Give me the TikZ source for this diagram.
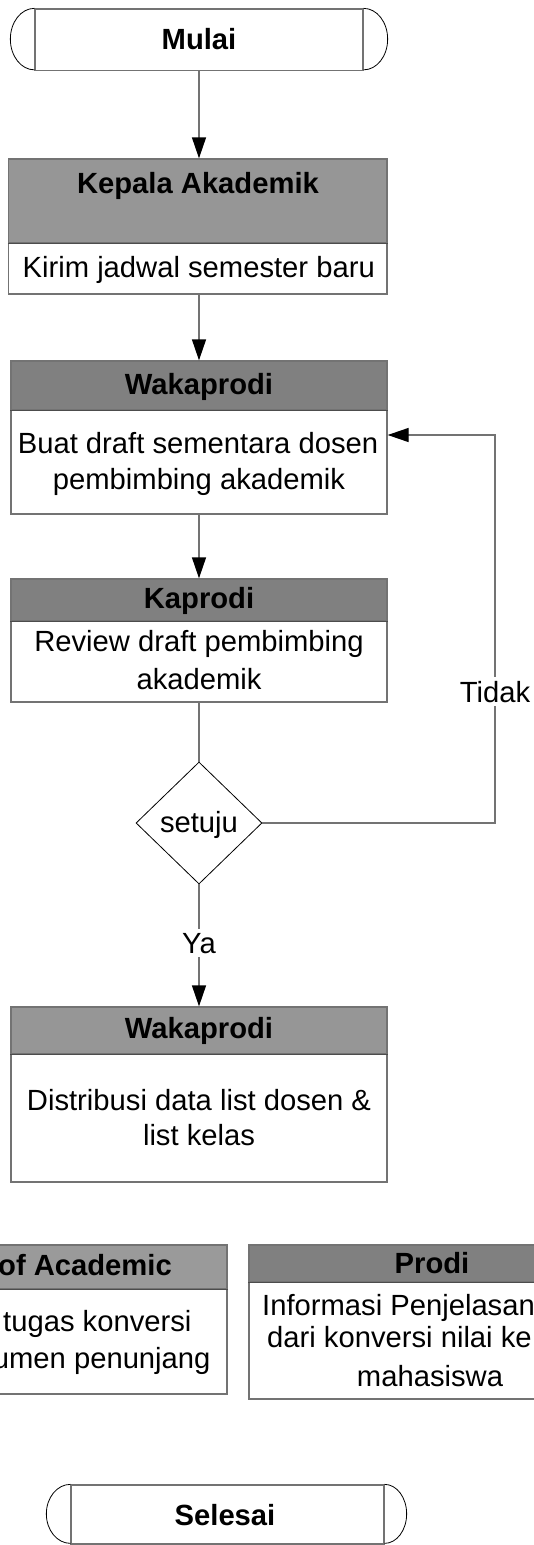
\documentclass[tikz,border=0pt]{standalone}
\usepackage{fontspec}
\setmainfont{Liberation Sans}
\usetikzlibrary{arrows.meta,shapes.geometric}
\definecolor{lineg}{HTML}{737373}
\definecolor{hdrlight}{HTML}{969696}
\definecolor{hdrdark}{HTML}{808080}
\definecolor{hdrpale}{HTML}{9A9A9A}
\begin{document}
\begin{tikzpicture}[x=1pt,y=-1pt,
  box/.style={draw=lineg, line width=1.3pt, fill=white, rectangle, inner sep=0pt},
  txt/.style={anchor=base, inner sep=0pt, font=\fontsize{29.2}{35}\selectfont},
  btxt/.style={txt, font=\fontsize{29.2}{35}\selectfont\bfseries},
  lbl/.style={txt, fill=white, inner xsep=0pt, inner ysep=4pt},
  conn/.style={draw=lineg, line width=1.3pt},
  arr/.style={conn, -{Triangle[length=21pt,width=14pt,color=black]}},
  arcline/.style={draw=black, line width=0.8pt},
  divider/.style={draw=black!70, line width=1.3pt},
]
\useasboundingbox (0,0) rectangle (534,1545);

% Mulai terminator
\node[box, minimum width=328pt, minimum height=61.5pt] (mulai) at (199,39.75) {};
\draw[arcline] (mulai.north west) arc[start angle=90, end angle=270, x radius=24pt, y radius=30.75pt];
\draw[arcline] (mulai.north east) arc[start angle=90, end angle=-90, x radius=24pt, y radius=30.75pt];
\node[btxt] (mulaitxt) at (199,49.4) {Mulai};

% Kepala Akademik
\node[box, fill=hdrlight, minimum width=378.5pt, minimum height=84pt] (kah) at (197.75,201) {};
\node[box, minimum width=378.5pt, minimum height=51pt] (kab) at (197.75,268.5) {};
\draw[divider] (kah.south west) -- (kah.south east);
\node[btxt] (kahtxt) at (198,193) {Kepala Akademik};
\node[txt] (kabtxt) at (198.75,277.3) {Kirim jadwal semester baru};

% Wakaprodi 1
\node[box, fill=hdrdark, minimum width=376pt, minimum height=49pt] (wah) at (199,385.5) {};
\node[box, minimum width=376pt, minimum height=104pt] (wab) at (199,462) {};
\draw[divider] (wah.south west) -- (wah.south east);
\node[btxt] (wahtxt) at (199,394) {Wakaprodi};
\node[txt] (wabtxta) at (198,453) {Buat draft sementara dosen};
\node[txt] (wabtxtb) at (199,489) {pembimbing akademik};

% Kaprodi
\node[box, fill=hdrdark, minimum width=376pt, minimum height=42pt] (kph) at (199,600) {};
\node[box, minimum width=376pt, minimum height=81pt] (kpb) at (199,661.5) {};
\draw[divider] (kph.south west) -- (kph.south east);
\node[btxt] (kphtxt) at (199,608) {Kaprodi};
\node[txt] (kpbtxta) at (199,651) {Review draft pembimbing};
\node[txt] (kpbtxtb) at (199,689) {akademik};

% Decision
\node[diamond, draw=black, line width=0.8pt, fill=white, minimum width=126pt, minimum height=122pt, inner sep=0pt] (dia) at (199,823) {};
\node[txt] (diatxt) at (199,832.5) {setuju};

% Wakaprodi 2
\node[box, fill=hdrlight, minimum width=376pt, minimum height=47pt] (w2h) at (199,1030.5) {};
\node[box, minimum width=376pt, minimum height=128pt] (w2b) at (199,1118) {};
\draw[divider] (w2h.south west) -- (w2h.south east);
\node[btxt] (w2htxt) at (199,1038) {Wakaprodi};
\node[txt] (w2btxta) at (199,1110) {Distribusi data list dosen \&};
\node[txt] (w2btxtb) at (199,1145) {list kelas};

% Bottom left box (cut by the frame)
\node[box, fill=hdrpale, minimum width=347pt, minimum height=44pt] (hah) at (53.5,1267) {};
\node[box, minimum width=347pt, minimum height=105pt] (hab) at (53.5,1341.5) {};
\draw[divider] (hah.south west) -- (hah.south east);
\node[btxt, anchor=base east] (hahtxt) at (172,1275) {of Academic};
\node[txt, anchor=base east] (habtxta) at (191.7,1331) {tugas konversi};
\node[txt, anchor=base east] (habtxtb) at (210.7,1368) {umen penunjang};

% Prodi box (cut by the frame)
\node[box, fill=hdrdark, minimum width=368pt, minimum height=37pt] (prh) at (433,1263.5) {};
\node[box, minimum width=368pt, minimum height=117pt] (prb) at (433,1340.5) {};
\draw[divider] (prh.south west) -- (prh.south east);
\node[btxt] (prhtxt) at (432,1273) {Prodi};
\node[txt, anchor=base west] (prbtxta) at (262,1315) {Informasi Penjelasan};
\node[txt, anchor=base west] (prbtxtb) at (267,1347) {dari konversi nilai ke};
\node[txt] (prbtxtc) at (430,1386) {mahasiswa};

% Selesai terminator
\node[box, minimum width=313pt, minimum height=59pt] (selesai) at (227.5,1514.5) {};
\draw[arcline] (selesai.north west) arc[start angle=90, end angle=270, x radius=24pt, y radius=29.5pt];
\draw[arcline] (selesai.north east) arc[start angle=90, end angle=-90, x radius=22pt, y radius=29.5pt];
\node[btxt] (selesaitxt) at (225,1525) {Selesai};

% Connectors
\draw[arr] (mulai.south) -- (mulai.south |- kah.north);
\draw[arr] (kab.south -| mulai.south) -- (wah.north);
\draw[arr] (wab.south) -- (kph.north);
\draw[conn] (kpb.south) -- (dia.north);
\coordinate (fb) at (495,435);
\draw[arr] (dia.east) -| (fb) -- (fb -| wab.east);
\node[lbl] (tidak) at (495,702) {Tidak};
\draw[arr] (dia.south) -- (w2h.north);
\node[lbl] (ya) at (199,953) {Ya};
\end{tikzpicture}
\end{document}
